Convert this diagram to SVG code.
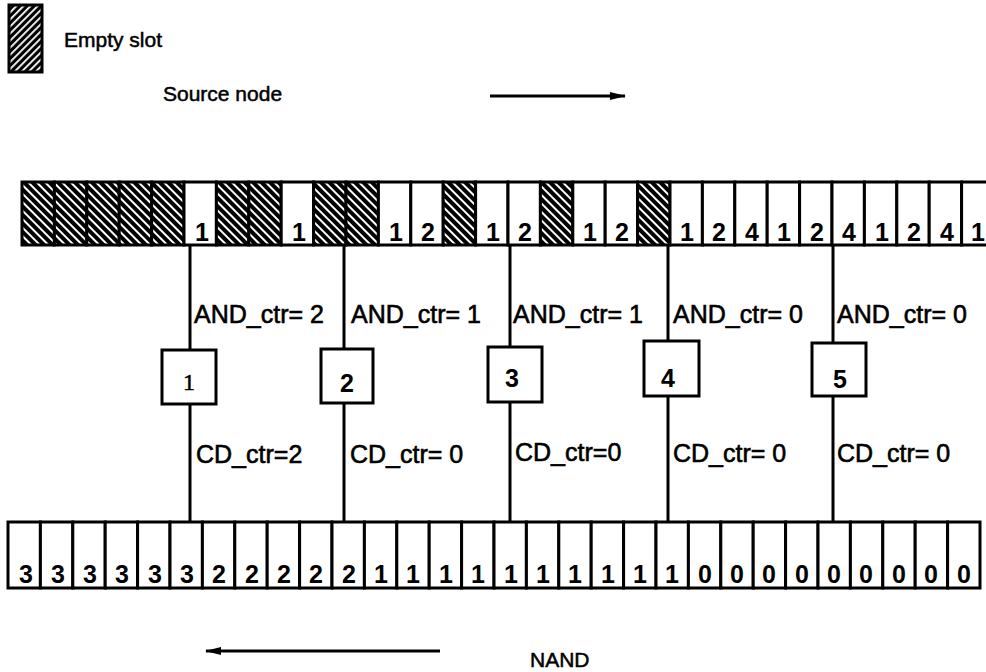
<svg xmlns="http://www.w3.org/2000/svg" width="986" height="672" viewBox="0 0 986 672">
<defs>
<pattern id="hatchA" width="6" height="6" patternUnits="userSpaceOnUse" patternTransform="rotate(45)">
<rect width="6" height="6" fill="#000"/>
<rect y="0" width="6" height="2" fill="#fff"/>
</pattern>
<pattern id="hatchB" width="5" height="5" patternUnits="userSpaceOnUse" patternTransform="rotate(-45)">
<rect width="5" height="5" fill="#000"/>
<rect y="0" width="5" height="1.8" fill="#fff"/>
</pattern>
<marker id="arr" markerWidth="16" markerHeight="10" refX="15" refY="5" orient="auto" markerUnits="userSpaceOnUse">
<path d="M0,1 L16,5 L0,9 Z" fill="#000"/>
</marker>
</defs>
<style>
.c{fill:#fff;stroke:#000;stroke-width:3}
.h{fill:url(#hatchA);stroke:#000;stroke-width:3}
.d{font-family:"Liberation Sans",Arial,sans-serif;font-size:25px;font-weight:bold;text-anchor:middle;fill:#000}
.l{font-family:"Liberation Sans",Arial,sans-serif;font-size:25px;fill:#000;stroke:#000;stroke-width:0.6}
.t{font-family:"Liberation Sans",Arial,sans-serif;font-size:21px;fill:#000;stroke:#000;stroke-width:0.5}
.ln{stroke:#000;stroke-width:3;fill:none}
.box{fill:#fff;stroke:#000;stroke-width:3}
</style>
<rect width="986" height="672" fill="#fff"/>

<g id="legend">
<rect x="9" y="5" width="33" height="67" fill="url(#hatchB)" stroke="#000" stroke-width="3"/>
<text class="t" x="64" y="47" font-size="20">Empty slot</text>
<text class="t" x="163" y="101">Source node</text>
<line class="ln" x1="490" y1="96" x2="625" y2="96" marker-end="url(#arr)"/>
</g>

<g id="source-row">
<rect class="h" x="22" y="182" width="32.4" height="63"/>
<rect class="h" x="54.4" y="182" width="32.4" height="63"/>
<rect class="h" x="86.8" y="182" width="32.4" height="63"/>
<rect class="h" x="119.2" y="182" width="32.4" height="63"/>
<rect class="h" x="151.6" y="182" width="32.4" height="63"/>
<rect class="c" x="184" y="182" width="32.4" height="63"/>
<rect class="h" x="216.4" y="182" width="32.4" height="63"/>
<rect class="h" x="248.8" y="182" width="32.4" height="63"/>
<rect class="c" x="281.2" y="182" width="32.4" height="63"/>
<rect class="h" x="313.6" y="182" width="32.4" height="63"/>
<rect class="h" x="346" y="182" width="32.4" height="63"/>
<rect class="c" x="378.4" y="182" width="32.4" height="63"/>
<rect class="c" x="410.8" y="182" width="32.4" height="63"/>
<rect class="h" x="443.2" y="182" width="32.4" height="63"/>
<rect class="c" x="475.6" y="182" width="32.4" height="63"/>
<rect class="c" x="508" y="182" width="32.4" height="63"/>
<rect class="h" x="540.4" y="182" width="32.4" height="63"/>
<rect class="c" x="572.8" y="182" width="32.4" height="63"/>
<rect class="c" x="605.2" y="182" width="32.4" height="63"/>
<rect class="h" x="637.6" y="182" width="32.4" height="63"/>
<rect class="c" x="670" y="182" width="32.4" height="63"/>
<rect class="c" x="702.4" y="182" width="32.4" height="63"/>
<rect class="c" x="734.8" y="182" width="32.4" height="63"/>
<rect class="c" x="767.2" y="182" width="32.4" height="63"/>
<rect class="c" x="799.6" y="182" width="32.4" height="63"/>
<rect class="c" x="832" y="182" width="32.4" height="63"/>
<rect class="c" x="864.4" y="182" width="32.4" height="63"/>
<rect class="c" x="896.8" y="182" width="32.4" height="63"/>
<rect class="c" x="929.2" y="182" width="32.4" height="63"/>
<rect class="c" x="961.6" y="182" width="32.4" height="63"/>
<text class="d" x="202" y="241">1</text>
<text class="d" x="299" y="241">1</text>
<text class="d" x="396" y="241">1</text>
<text class="d" x="428" y="241">2</text>
<text class="d" x="493" y="241">1</text>
<text class="d" x="525" y="241">2</text>
<text class="d" x="590" y="241">1</text>
<text class="d" x="622" y="241">2</text>
<text class="d" x="687" y="241">1</text>
<text class="d" x="719" y="241">2</text>
<text class="d" x="752" y="241">4</text>
<text class="d" x="784" y="241">1</text>
<text class="d" x="817" y="241">2</text>
<text class="d" x="849" y="241">4</text>
<text class="d" x="882" y="241">1</text>
<text class="d" x="914" y="241">2</text>
<text class="d" x="947" y="241">4</text>
<text class="d" x="978" y="241">1</text>
</g>

<g id="connectors">
<line class="ln" x1="190" y1="245" x2="190" y2="350"/>
<line class="ln" x1="190" y1="404" x2="190" y2="522"/>
<line class="ln" x1="344" y1="245" x2="344" y2="349"/>
<line class="ln" x1="344" y1="403" x2="344" y2="522"/>
<line class="ln" x1="510" y1="245" x2="510" y2="347"/>
<line class="ln" x1="510" y1="402" x2="510" y2="522"/>
<line class="ln" x1="668" y1="245" x2="668" y2="341"/>
<line class="ln" x1="668" y1="396" x2="668" y2="522"/>
<line class="ln" x1="833" y1="245" x2="833" y2="343"/>
<line class="ln" x1="833" y1="396" x2="833" y2="522"/>
<text class="l" x="194" y="323">AND_ctr= 2</text>
<text class="l" x="351" y="323">AND_ctr= 1</text>
<text class="l" x="513" y="323">AND_ctr= 1</text>
<text class="l" x="673" y="323">AND_ctr= 0</text>
<text class="l" x="837" y="323">AND_ctr= 0</text>
<text class="l" x="196" y="463">CD_ctr=2</text>
<text class="l" x="350" y="463">CD_ctr= 0</text>
<text class="l" x="515" y="461">CD_ctr=0</text>
<text class="l" x="673" y="462">CD_ctr= 0</text>
<text class="l" x="837" y="462">CD_ctr= 0</text>
</g>

<g id="node1">
<rect class="box" x="162" y="350" width="54" height="54"/>
<text x="189" y="390" font-family="'Liberation Serif','Times New Roman',serif" font-size="24" text-anchor="middle" stroke="#000" stroke-width="0.5">1</text>
</g>
<g id="node2">
<rect class="box" x="321" y="349" width="52" height="54"/>
<text class="d" x="347" y="392">2</text>
</g>
<g id="node3">
<rect class="box" x="488" y="347" width="54" height="55"/>
<text class="d" x="512" y="387">3</text>
</g>
<g id="node4">
<rect class="box" x="644" y="341" width="55" height="55"/>
<text class="d" x="668" y="387">4</text>
</g>
<g id="node5">
<rect class="box" x="812" y="343" width="54" height="53"/>
<text class="d" x="840" y="388">5</text>
</g>

<g id="nand-row">
<rect class="c" x="8" y="522" width="32.4" height="66"/>
<rect class="c" x="40.4" y="522" width="32.4" height="66"/>
<rect class="c" x="72.8" y="522" width="32.4" height="66"/>
<rect class="c" x="105.2" y="522" width="32.4" height="66"/>
<rect class="c" x="137.6" y="522" width="32.4" height="66"/>
<rect class="c" x="170" y="522" width="32.4" height="66"/>
<rect class="c" x="202.4" y="522" width="32.4" height="66"/>
<rect class="c" x="234.8" y="522" width="32.4" height="66"/>
<rect class="c" x="267.2" y="522" width="32.4" height="66"/>
<rect class="c" x="299.6" y="522" width="32.4" height="66"/>
<rect class="c" x="332" y="522" width="32.4" height="66"/>
<rect class="c" x="364.4" y="522" width="32.4" height="66"/>
<rect class="c" x="396.8" y="522" width="32.4" height="66"/>
<rect class="c" x="429.2" y="522" width="32.4" height="66"/>
<rect class="c" x="461.6" y="522" width="32.4" height="66"/>
<rect class="c" x="494" y="522" width="32.4" height="66"/>
<rect class="c" x="526.4" y="522" width="32.4" height="66"/>
<rect class="c" x="558.8" y="522" width="32.4" height="66"/>
<rect class="c" x="591.2" y="522" width="32.4" height="66"/>
<rect class="c" x="623.6" y="522" width="32.4" height="66"/>
<rect class="c" x="656" y="522" width="32.4" height="66"/>
<rect class="c" x="688.4" y="522" width="32.4" height="66"/>
<rect class="c" x="720.8" y="522" width="32.4" height="66"/>
<rect class="c" x="753.2" y="522" width="32.4" height="66"/>
<rect class="c" x="785.6" y="522" width="32.4" height="66"/>
<rect class="c" x="818" y="522" width="32.4" height="66"/>
<rect class="c" x="850.4" y="522" width="32.4" height="66"/>
<rect class="c" x="882.8" y="522" width="32.4" height="66"/>
<rect class="c" x="915.2" y="522" width="32.4" height="66"/>
<rect class="c" x="947.6" y="522" width="32.4" height="66"/>
<text class="d" x="26" y="583">3</text>
<text class="d" x="58" y="583">3</text>
<text class="d" x="90" y="583">3</text>
<text class="d" x="122" y="583">3</text>
<text class="d" x="155" y="583">3</text>
<text class="d" x="187" y="583">3</text>
<text class="d" x="219" y="583">2</text>
<text class="d" x="252" y="583">2</text>
<text class="d" x="284" y="583">2</text>
<text class="d" x="316" y="583">2</text>
<text class="d" x="349" y="583">2</text>
<text class="d" x="381" y="583">1</text>
<text class="d" x="413" y="583">1</text>
<text class="d" x="446" y="583">1</text>
<text class="d" x="478" y="583">1</text>
<text class="d" x="511" y="583">1</text>
<text class="d" x="543" y="583">1</text>
<text class="d" x="575" y="583">1</text>
<text class="d" x="608" y="583">1</text>
<text class="d" x="640" y="583">1</text>
<text class="d" x="672" y="583">1</text>
<text class="d" x="705" y="583">0</text>
<text class="d" x="737" y="583">0</text>
<text class="d" x="769" y="583">0</text>
<text class="d" x="802" y="583">0</text>
<text class="d" x="834" y="583">0</text>
<text class="d" x="866" y="583">0</text>
<text class="d" x="899" y="583">0</text>
<text class="d" x="931" y="583">0</text>
<text class="d" x="964" y="583">0</text>
</g>

<g id="nand-legend">
<line class="ln" x1="440" y1="651" x2="206" y2="651" marker-end="url(#arr)"/>
<text class="t" x="530" y="667" font-size="22">NAND</text>
</g>
</svg>
